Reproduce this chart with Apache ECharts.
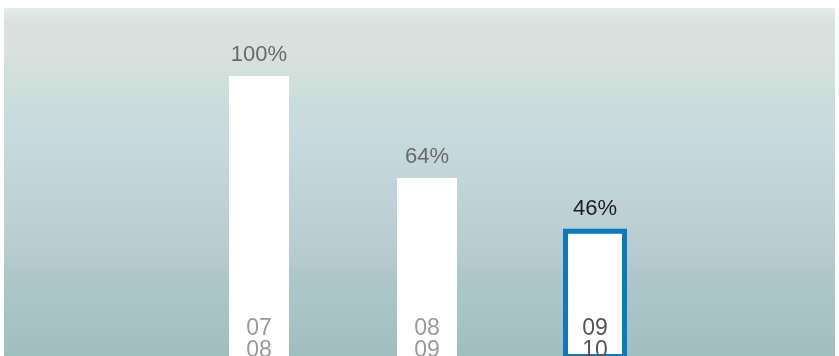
<!DOCTYPE html>
<html>
<head>
<meta charset="utf-8">
<script src="https://cdn.jsdelivr.net/npm/echarts@6/dist/echarts.min.js"></script>
<style>
  html, body { margin: 0; padding: 0; background: #ffffff; }
  #chart { width: 839px; height: 356px; }
</style>
</head>
<body>
<div id="chart"></div>
<script>
// Seasons shown as two-line year pairs
const seasons = ['07\n08', '08\n09', '09\n10'];
// Share relative to the first season, in percent
const shares = [100, 64, 46];
// Index of the current season (outlined bar)
const currentIndex = 2;

const chart = echarts.init(document.getElementById('chart'), null, { renderer: 'canvas' });

// Past seasons: plain white bars; the current season goes in its own series
const pastData = shares.map((v, i) => (i === currentIndex ? '-' : v));
const currentData = shares.map((v, i) => (i === currentIndex ? v : '-'));

const valueLabel = {
  show: true,
  position: 'top',
  formatter: '{c}%',
  fontFamily: 'Liberation Sans',
  fontSize: 22
};

chart.setOption({
  backgroundColor: '#ffffff',
  animation: false,
  graphic: [{
    type: 'rect',
    z: -10,
    silent: true,
    shape: { x: 4, y: 8, width: 831, height: 348 },
    style: {
      fill: {
        type: 'linear', x: 0, y: 0, x2: 0, y2: 1,
        colorStops: [
          { offset: 0.00, color: '#e5ece9' },
          { offset: 0.03, color: '#dde4e1' },
          { offset: 0.04, color: '#d9e2df' },
          { offset: 0.12, color: '#d9e1de' },
          { offset: 0.17, color: '#d4e0db' },
          { offset: 0.23, color: '#cfe0da' },
          { offset: 0.27, color: '#cadcdc' },
          { offset: 0.36, color: '#c7dadd' },
          { offset: 0.55, color: '#bfd3d6' },
          { offset: 0.72, color: '#b6cbce' },
          { offset: 0.78, color: '#adc6c7' },
          { offset: 0.84, color: '#aac5c5' },
          { offset: 1.00, color: '#a1bebe' }
        ]
      }
    }
  }],
  grid: { left: 175, right: 160, top: 76, bottom: -3, containLabel: false, outerBoundsMode: 'none' },
  xAxis: [{
    type: 'category',
    data: seasons,
    axisLine: { show: false },
    axisTick: { show: false },
    splitLine: { show: false },
    axisLabel: {
      inside: true,
      margin: -3,
      fontFamily: 'Liberation Sans',
      fontSize: 23,
      lineHeight: 22,
      color: (value, index) => index === currentIndex ? '#555555' : '#9a9a9a'
    },
    z: 5
  }, {
    type: 'category',
    data: seasons,
    show: false
  }],
  yAxis: {
    type: 'value',
    min: 0,
    max: 100,
    show: false
  },
  series: [{
    type: 'bar',
    xAxisIndex: 0,
    data: pastData,
    barWidth: 60,
    itemStyle: { color: '#ffffff' },
    label: Object.assign({}, valueLabel, { color: '#6a6a6a', distance: 10 })
  }, {
    type: 'bar',
    xAxisIndex: 1,
    data: currentData,
    barWidth: 64,
    itemStyle: { color: '#ffffff', borderColor: '#0a79bd', borderWidth: 5 },
    label: Object.assign({}, valueLabel, { color: '#1e1e1e', distance: 9 })
  }]
});
</script>
</body>
</html>
